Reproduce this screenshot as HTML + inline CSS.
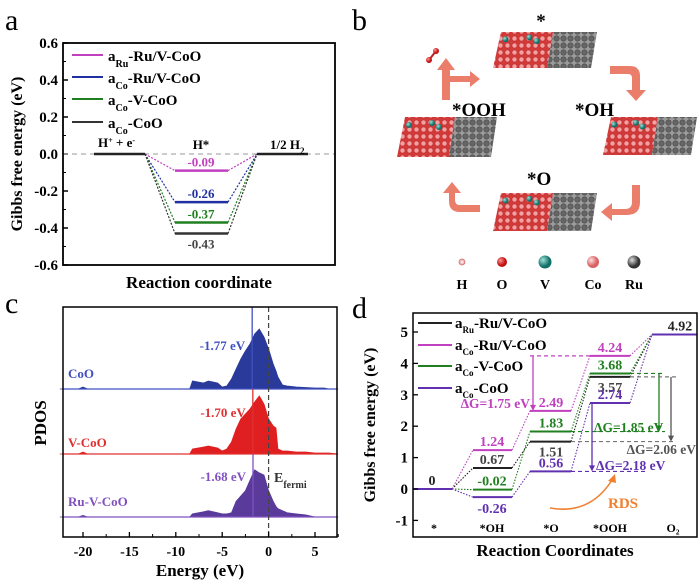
<!DOCTYPE html>
<html><head><meta charset="utf-8"><style>
body{margin:0;background:#fff}
svg{display:block;font-family:"Liberation Serif",serif;font-weight:bold}
</style></head><body>
<svg id="fig" width="700" height="580" viewBox="0 0 700 580" xmlns="http://www.w3.org/2000/svg">
<defs>
<pattern id="pinkP" width="7" height="7" patternUnits="userSpaceOnUse"><rect width="7" height="7" fill="#d23a3a"/><circle cx="3.5" cy="3.5" r="2.6" fill="#f2a0a0" stroke="#c03030" stroke-width="0.7"/></pattern>
<pattern id="grayP" width="7" height="7" patternUnits="userSpaceOnUse"><rect width="7" height="7" fill="#9a9a9a"/><circle cx="3.5" cy="3.5" r="2.7" fill="#666" stroke="#444" stroke-width="0.6"/></pattern>
<radialGradient id="gH"><stop offset="0" stop-color="#fff"/><stop offset="1" stop-color="#e89090"/></radialGradient>
<radialGradient id="gO" cx="0.35" cy="0.35"><stop offset="0" stop-color="#ff9090"/><stop offset="1" stop-color="#c01010"/></radialGradient>
<radialGradient id="gV" cx="0.35" cy="0.35"><stop offset="0" stop-color="#a0e0d8"/><stop offset="1" stop-color="#107068"/></radialGradient>
<radialGradient id="gCo" cx="0.35" cy="0.35"><stop offset="0" stop-color="#ffe0e0"/><stop offset="1" stop-color="#d86060"/></radialGradient>
<radialGradient id="gRu" cx="0.35" cy="0.35"><stop offset="0" stop-color="#ddd"/><stop offset="1" stop-color="#333"/></radialGradient>
</defs>
<g id="pa"></g>
<g id="pb"></g>
<g id="pc"></g>
<g id="pd"></g>
</svg>
<script>
// ---- Panel a data ----
const aSeries = ["aRu-Ru/V-CoO","aCo-Ru/V-CoO","aCo-V-CoO","aCo-CoO"];
const aHvalues = [-0.09,-0.26,-0.37,-0.43];
const aColors = ["#c040c0","#2030a0","#208020","#333333"];
const aTicks = [0.6,0.4,0.2,0.0,-0.2,-0.4,-0.6];
// ---- Panel c data ----
const cEnergy = [-22.5,-20.5,-20,-19.5,-8.5,-8.2,-7,-6.5,-5.5,-5,-4.5,-4,-3.5,-3,-2.5,-2,-1.5,-1,-0.5,0,0.5,0.8,1,1.5,2,3,4,5,6,6.5,7.5];
const cCoO  = [0,0,2,0,0,8,6,8,6,2,3,10,20,30,38,45,55,60,52,40,25,18,12,4,3,2,1.5,1,1,0,0];
const cVCoO = [0,0,2,0,0,5,7,8,6,3,5,12,25,35,40,45,52,58,50,35,28,26,5,3,3,2,2,1,1,1,0];
const cRuVCoO=[0,0,1.5,0,0,3,5,6,4,3,3,4,15,20,25,35,45,42,40,25,15,10,8,6,4,3,2,0,0,0,0];
const cCenters = [-1.77,-1.70,-1.68];
const cNames = ["CoO","V-CoO","Ru-V-CoO"];
const cTicks = [-20,-15,-10,-5,0,5];
// ---- Panel d data ----
const dCats = ["*","*OH","*O","*OOH","O₂"];
const dBlack = [0,0.67,1.51,3.57,4.92];
const dMagenta = [0,1.24,2.49,4.24,4.92];
const dGreen = [0,-0.02,1.83,3.68,4.92];
const dPurple = [0,-0.26,0.56,2.74,4.92];
const dTicks = [5,4,3,2,1,0,-1];

const NS="http://www.w3.org/2000/svg";
function mk(parent,tag,attrs,text){const e=document.createElementNS(NS,tag);for(const k in attrs)e.setAttribute(k,attrs[k]);if(text!==undefined)e.textContent=text;parent.appendChild(e);return e;}

// ================= Panel a =================
(function(){
const g=document.getElementById('pa');
const X0=63,X1=335,Y0=43,Y1=265;
const ya=v=>154-v*185;
let t=mk(g,'text',{x:5,y:30,'font-size':30,'font-weight':'normal'},'a');

aTicks.forEach(v=>{const y=ya(v);
 let l=mk(g,'line',{x1:X0,x2:X0+5,y1:y,y2:y,stroke:'#000','stroke-width':1.5});
 
 let tx=mk(g,'text',{x:X0-5,y:y+5,'font-size':15,'text-anchor':'end'},v.toFixed(1));
 
 if(v>-0.6){let m=mk(g,'line',{x1:X0,x2:X0+3,y1:y+18.5,y2:y+18.5,stroke:'#000','stroke-width':1});}
});
let zl=mk(g,'line',{x1:X0,x2:X1,y1:ya(0),y2:ya(0),stroke:'#999','stroke-dasharray':'5,4','stroke-width':1});

aHvalues.forEach((v,i)=>{
 const c=aColors[i];
 let p=mk(g,'polyline',{points:`145,${ya(0)} 175,${ya(v)}`,stroke:c,'stroke-width':1.2,'stroke-dasharray':'2,1.5',fill:'none'});
 
 let p2=mk(g,'polyline',{points:`228,${ya(v)} 257,${ya(0)}`,stroke:c,'stroke-width':1.2,'stroke-dasharray':'2,1.5',fill:'none'});
 
 let l=mk(g,'line',{x1:175,x2:228,y1:ya(v),y2:ya(v),stroke:c,'stroke-width':2.5});
 
 let lb=mk(g,'text',{x:201,y:i==3?ya(v)+15:ya(v)-4,'font-size':13,'text-anchor':'middle',fill:i==3?'#444':c},v.toFixed(2));
 
});
[[94,145],[257,308]].forEach(r=>{let l=mk(g,'line',{x1:r[0],x2:r[1],y1:ya(0),y2:ya(0),stroke:'#222','stroke-width':2.5});});
let t1=mk(g,'text',{x:98,y:147,'font-size':13});t1.innerHTML='H<tspan baseline-shift="super" font-size="8">+</tspan> + e<tspan baseline-shift="super" font-size="8">-</tspan>';

let t2=mk(g,'text',{x:201,y:149,'font-size':13,'text-anchor':'middle'},'H*');

let t3=mk(g,'text',{x:270,y:149,'font-size':13});t3.innerHTML='1/2 H<tspan baseline-shift="sub" font-size="9">2</tspan>';

const legY=[55,77,99,122];
const legTxt=[['Ru','-Ru/V-CoO'],['Co','-Ru/V-CoO'],['Co','-V-CoO'],['Co','-CoO']];
aSeries.forEach((s,i)=>{
 let l=mk(g,'line',{x1:72,x2:103,y1:legY[i],y2:legY[i],stroke:aColors[i],'stroke-width':2});
 
 let tx=mk(g,'text',{x:108,y:legY[i]+6,'font-size':15});tx.innerHTML=`a<tspan baseline-shift="sub" font-size="10">${legTxt[i][0]}</tspan>${legTxt[i][1]}`;
 
});
let b=mk(g,'rect',{x:X0,y:Y0,width:X1-X0,height:Y1-Y0,fill:'none',stroke:'#000','stroke-width':1.8});

let yt=mk(g,'text',{x:0,y:0,'font-size':16,'text-anchor':'middle',transform:'translate(22,154) rotate(-90)'},'Gibbs free energy (eV)');

let xt=mk(g,'text',{x:199,y:288,'font-size':17,'text-anchor':'middle'},'Reaction coordinate');

})();

// ================= Panel b =================
(function(){
const g=document.getElementById('pb');
let t=mk(g,'text',{x:352,y:30,'font-size':30,'font-weight':'normal'},'b');

function slab(x,y,w,h,name){
 const s=mk(g,'g',{});
 const half=w*0.52;
 mk(s,'polygon',{points:`${x+8},${y} ${x+half+6},${y} ${x+half},${y+h} ${x},${y+h}`,fill:'url(#pinkP)'});
 mk(s,'polygon',{points:`${x+half+6},${y} ${x+w},${y} ${x+w-6},${y+h} ${x+half},${y+h}`,fill:'url(#grayP)'});
 [[0.12,0.2],[0.35,0.15],[0.42,0.25]].forEach(p=>mk(s,'circle',{cx:x+w*p[0],cy:y+h*p[1],r:3,fill:'url(#gV)'}));
}
slab(493,32,104,36,'slab-star');
slab(603,117,94,38,'slab-oh');
slab(397,117,100,40,'slab-ooh');
slab(493,193,104,38,'slab-o');
[[541,27,'*'],[452,116,'*OOH'],[575,116,'*OH'],[527,185,'*O']].forEach(a=>{
 let tx=mk(g,'text',{x:a[0],y:a[1],'font-size':19,'text-anchor':a[2]=='*'?'middle':'start'},a[2]);
 
});
const ac='#e8705a';
const arrows=[
 'M610,66 L630,66 Q640,66 640,76 L640,90 L646,90 L636,101 L626,90 L632,90 L632,78 Q632,74 628,74 L610,74 Z',
 'M640,185 L640,202 Q640,215 627,215 L612,215 L612,221 L601,212 L612,203 L612,209 L625,209 Q632,209 632,202 L632,185 Z',
 'M480,212 L460,212 Q449,212 449,201 L449,193 L443,193 L452,182 L461,193 L455,193 L455,200 Q455,205 460,205 L480,205 Z',
 'M442,100 L442,70 L437,70 L446,58 L455,70 L450,70 L450,76 L470,76 L470,71 L480,79 L470,87 L470,82 L450,82 L450,100 Z'];
arrows.forEach(d=>{let p=mk(g,'path',{d:d,fill:ac,opacity:0.9});});
let o2=mk(g,'g',{});
mk(o2,'line',{x1:429,y1:60,x2:436,y2:51,stroke:'#c02020','stroke-width':2});
mk(o2,'circle',{cx:429,cy:60,r:3,fill:'url(#gO)'});mk(o2,'circle',{cx:436,cy:51,r:3,fill:'url(#gO)'});
const leg=[[462,3,'url(#gH)','H'],[502,5,'url(#gO)','O'],[545,6.5,'url(#gV)','V'],[593,6,'url(#gCo)','Co'],[634,6.5,'url(#gRu)','Ru']];
leg.forEach(l=>{
 let c=mk(g,'circle',{cx:l[0],cy:262,r:l[1],fill:l[2],stroke:l[3]=='H'?'#d07070':'none','stroke-width':0.8});
 
 let tx=mk(g,'text',{x:l[0],y:289,'font-size':14,'text-anchor':'middle'},l[3]);
 
});
})();

// ================= Panel c =================
(function(){
const g=document.getElementById('pc');
const X0=63,X1=337,Y0=307,Y1=537;
const xe=e=>268.6+e*9.28;
let t=mk(g,'text',{x:5,y:313,'font-size':30,'font-weight':'normal'},'c');

const bases=[389,454,517];const tops=[307,389,454];
const cols=['#2a3a9a','#e02020','#5a3a9a'];const lcol=['#4050c0','#e03030','#8050c0'];
const scales=[1.0,1.0,1.05];
const data=[cCoO,cVCoO,cRuVCoO];
data.forEach((arr,i)=>{
 let d=`M${xe(cEnergy[0])},${bases[i]}`;
 for(let k=0;k<cEnergy.length;k++){d+=` L${xe(cEnergy[k]).toFixed(1)},${(bases[i]-arr[k]*scales[i]).toFixed(1)}`;}
 d+=` L${xe(cEnergy[cEnergy.length-1])},${bases[i]} Z`;
 let p=mk(g,'path',{d:d,fill:cols[i],stroke:cols[i],'stroke-width':0.8});
 
 let bl=mk(g,'line',{x1:X0,x2:X1,y1:bases[i],y2:bases[i],stroke:lcol[i],'stroke-width':1.3});
 
 let cl=mk(g,'line',{x1:xe(cCenters[i]),x2:xe(cCenters[i]),y1:tops[i],y2:bases[i],stroke:lcol[i],'stroke-width':1.3});
 
 let vl=mk(g,'text',{x:xe(cCenters[i])-7,y:[350,417,481][i],'font-size':13,'text-anchor':'end',fill:lcol[i]},cCenters[i].toFixed(2)+' eV');
 
 let nl=mk(g,'text',{x:68,y:[378,447,506][i],'font-size':13,fill:lcol[i]},cNames[i]);
 
});
let fl=mk(g,'line',{x1:xe(0),x2:xe(0),y1:Y0,y2:Y1,stroke:'#444','stroke-width':1.2,'stroke-dasharray':'5,3'});

let ef=mk(g,'text',{x:274,y:482,'font-size':14,fill:'#333'});ef.innerHTML='E<tspan baseline-shift="sub" font-size="10">fermi</tspan>';

let b=mk(g,'rect',{x:X0,y:Y0,width:X1-X0,height:Y1-Y0,fill:'none',stroke:'#000','stroke-width':1.5});

cTicks.forEach(v=>{
 let l=mk(g,'line',{x1:xe(v),x2:xe(v),y1:Y1,y2:Y1-5,stroke:'#000','stroke-width':1.3});
 let m=mk(g,'line',{x1:xe(v+2.5),x2:xe(v+2.5),y1:Y1,y2:Y1-3,stroke:'#000'});
 let tx=mk(g,'text',{x:xe(v),y:556,'font-size':14,'text-anchor':'middle'},v);
});
let xt=mk(g,'text',{x:200,y:576,'font-size':17,'text-anchor':'middle'},'Energy (eV)');

let yt=mk(g,'text',{x:0,y:0,'font-size':17,'text-anchor':'middle',transform:'translate(46,423) rotate(-90)'},'PDOS');

})();

// ================= Panel d =================
(function(){
const g=document.getElementById('pd');
const X0=413,X1=697,Y0=313,Y1=537;
const yd=v=>489-v*31.4;
const cx=[[413,452],[473,512],[530,571],[590,630],[652,697]];
const catX=[434,492,551,610,673];
let t=mk(g,'text',{x:352,y:318,'font-size':30,'font-weight':'normal'},'d');

const series=[dBlack,dMagenta,dGreen,dPurple];
const cols=['#222222','#c040c0','#208020','#6030b0'];
const names=['black','magenta','green','purple'];
series.forEach((s,i)=>{
 for(let k=0;k<s.length;k++){
  if(k>0){let c=mk(g,'line',{x1:cx[k-1][1],y1:yd(s[k-1]),x2:cx[k][0],y2:yd(s[k]),stroke:cols[i],'stroke-width':1.1,'stroke-dasharray':'1.5,1.5'});
   }
  let l=mk(g,'line',{x1:cx[k][0],x2:cx[k][1],y1:yd(s[k]),y2:yd(s[k]),stroke:cols[i],'stroke-width':2});
  
 }
});
function lab(x,y,txt,col,name){let tx=mk(g,'text',{x:x,y:y,'font-size':14,'text-anchor':'middle',fill:col},txt);}
lab(432,yd(0)-4,'0','#222','value-label');
lab(492,yd(dMagenta[1])-4,dMagenta[1].toFixed(2),cols[1],'value-label');
lab(492,yd(dBlack[1])-4,dBlack[1].toFixed(2),'#444','value-label');
lab(492,yd(dGreen[1])-4,dGreen[1].toFixed(2),cols[2],'value-label');
lab(492,yd(dPurple[1])+16,dPurple[1].toFixed(2),cols[3],'value-label');
lab(551,yd(dMagenta[2])-4,dMagenta[2].toFixed(2),cols[1],'value-label');
lab(551,yd(dGreen[2])-4,dGreen[2].toFixed(2),cols[2],'value-label');
lab(551,yd(dBlack[2])+15,dBlack[2].toFixed(2),'#444','value-label');
lab(551,yd(dPurple[2])-4,dPurple[2].toFixed(2),cols[3],'value-label');
lab(610,yd(dMagenta[3])-4,dMagenta[3].toFixed(2),cols[1],'value-label');
lab(610,yd(dGreen[3])-4,dGreen[3].toFixed(2),cols[2],'value-label');
lab(610,yd(dBlack[3])+15,dBlack[3].toFixed(2),'#444','value-label');
lab(610,yd(dPurple[3])-4,dPurple[3].toFixed(2),cols[3],'value-label');
lab(680,yd(dBlack[4])-4,dBlack[4].toFixed(2),'#222','value-label');
function dash(x1,x2,y,col){let l=mk(g,'line',{x1:x1,x2:x2,y1:y,y2:y,stroke:col,'stroke-width':1.2,'stroke-dasharray':'4,3'});}
function arr(x,y1,y2,col){let l=mk(g,'line',{x1:x,x2:x,y1:y1,y2:y2-2,stroke:col,'stroke-width':1.3});
 let h=mk(g,'path',{d:`M${x-3},${y2-6} L${x+3},${y2-6} L${x},${y2} Z`,fill:col});}
dash(530,590,yd(dMagenta[3]),cols[1]);arr(533,yd(dMagenta[3]),yd(dMagenta[2]),cols[1]);
dash(630,665,yd(dGreen[3]),cols[2]);dash(571,665,yd(dGreen[2]),cols[2]);arr(659,yd(dGreen[3]),yd(dGreen[2]),cols[2]);
dash(630,676,yd(dBlack[3]),'#777');dash(571,676,yd(dBlack[2]),'#777');arr(671,yd(dBlack[3]),yd(dBlack[2]),'#555');
dash(571,645,yd(dPurple[2]),cols[3]);arr(592,yd(dPurple[3]),yd(dPurple[2]),cols[3]);
function dl(x,y,txt,col,anchor){let tx=mk(g,'text',{x:x,y:y,'font-size':13.5,fill:col,'text-anchor':anchor||'start'},txt);}
dl(530,408,'ΔG=1.75 eV',cols[1],'end');
dl(594,432,'ΔG=1.85 eV',cols[2]);
dl(696,454,'ΔG=2.06 eV','#555','end');
dl(596,470,'ΔG=2.18 eV',cols[3]);
let rds=mk(g,'path',{d:'M550,508 Q590,515 612,480',stroke:'#f08030','stroke-width':1.6,fill:'none'});

let rh=mk(g,'path',{d:'M615,474 L608,481 L616,483 Z',fill:'#f08030'});
let rt=mk(g,'text',{x:608,y:508,'font-size':15,fill:'#f08030'},'RDS');
const legY=[323,345,366,388];
const legTxt=[['Ru','-Ru/V-CoO'],['Co','-Ru/V-CoO'],['Co','-V-CoO'],['Co','-CoO']];
legY.forEach((y,i)=>{
 let l=mk(g,'line',{x1:418,x2:452,y1:y,y2:y,stroke:cols[i],'stroke-width':2});
 let tx=mk(g,'text',{x:455,y:y+5,'font-size':15});tx.innerHTML=`a<tspan baseline-shift="sub" font-size="9">${legTxt[i][0]}</tspan>${legTxt[i][1]}`;
 
});
let b=mk(g,'rect',{x:X0,y:Y0,width:X1-X0,height:Y1-Y0,fill:'none',stroke:'#000','stroke-width':1.5});

dTicks.forEach(v=>{
 let l=mk(g,'line',{x1:X0,x2:X0+5,y1:yd(v),y2:yd(v),stroke:'#000','stroke-width':1.3});
 let tx=mk(g,'text',{x:X0-5,y:yd(v)+5,'font-size':15,'text-anchor':'end'},v);
});
dCats.forEach((c,i)=>{let tx=mk(g,'text',{x:catX[i],y:532,'font-size':12,'text-anchor':'middle'},c);});
let xt=mk(g,'text',{x:555,y:556,'font-size':17,'text-anchor':'middle'},'Reaction Coordinates');

let yt=mk(g,'text',{x:0,y:0,'font-size':16,'text-anchor':'middle',transform:'translate(375,425) rotate(-90)'},'Gibbs free energy (eV)');

})();
</script>
</body></html>
